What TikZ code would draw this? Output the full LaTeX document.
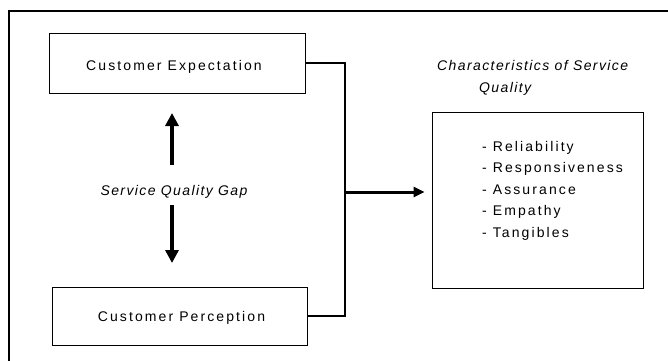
\documentclass[tikz,border=0pt]{standalone}
\usepackage{fontspec}
\setmainfont{Liberation Sans}
\newfontfamily\upsp[LetterSpace=15]{Liberation Sans}
\newfontfamily\itsp[LetterSpace=10]{Liberation Sans Italic}
\usetikzlibrary{arrows.meta,calc}
\begin{document}
\begin{tikzpicture}[x=1pt,y=-1pt,
  box/.style={draw,line width=0.9pt,inner sep=0pt},
  lbl/.style={font=\fontsize{14}{16}\upsp,inner sep=0pt},
  itl/.style={font=\fontsize{14}{16}\itsp,inner sep=0pt},
  conn/.style={line width=1.4pt},
  bigarrow/.style={line width=4pt,-{Triangle[width=13pt,length=13pt]}},
  midarrow/.style={line width=3pt,-{Triangle[width=10pt,length=11pt]}}]
\useasboundingbox (0,0) rectangle (668,360);
% outer frame (open at right/bottom edges of the crop)
\draw[line width=2.2pt] (9,361) -- (9,11) -- (669,11);
% boxes
\node[box,minimum width=256pt,minimum height=60pt] (top) at (177,63) {};
\node[box,minimum width=255pt,minimum height=58pt] (bot) at (179.5,316) {};
\node[box,minimum width=211pt,minimum height=176pt] (right) at (537.5,200) {};
% texts
\node[lbl,anchor=base] (toptxt) at (174,70.5) {Customer Expectation};
\node[lbl,anchor=base] (bottxt) at (181.5,321.5) {Customer Perception};
\node[itl,anchor=base] (gap) at (174,195) {Service Quality Gap};
\node[itl,anchor=base west] (title1) at (437,70) {Characteristics of Service};
\node[itl,anchor=base west] (title2) at (479,92.5) {Quality};
\node[lbl,anchor=north west,align=left,font=\fontsize{14}{21.5}\selectfont\upsp] (list) at (482,141)
  {- Reliability\\- Responsiveness\\- Assurance\\- Empathy\\- Tangibles};
% gap arrows
\coordinate (upbase) at (172,165);
\coordinate (uptip) at (172,113);
\coordinate (dnbase) at (172,205);
\coordinate (dntip) at (172,263);
\draw[bigarrow] (upbase) -- (uptip);
\draw[bigarrow] (dnbase) -- (dntip);
% connectors
\coordinate (j) at (345,192);
\draw[conn] (top.east) -| (j);
\draw[conn] (bot.east) -| (j);
\draw[midarrow,shorten >=7pt] (j) -- (right.west |- j);
\end{tikzpicture}
\end{document}
